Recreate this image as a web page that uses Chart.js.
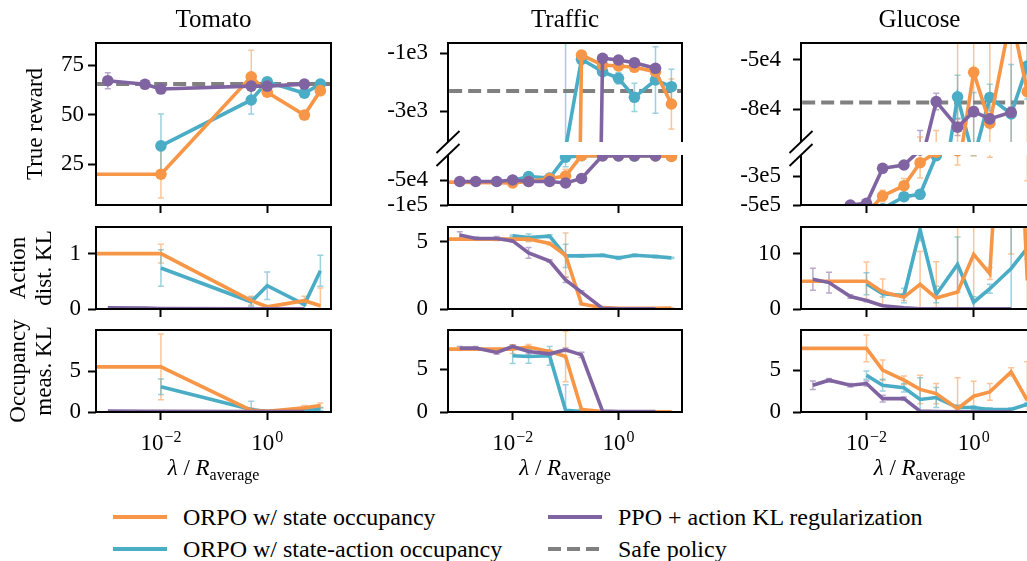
<!DOCTYPE html>
<html><head><meta charset="utf-8">
<script src="https://cdn.jsdelivr.net/npm/chart.js"></script>
<style>
html,body{margin:0;padding:0;width:1027px;height:561px;overflow:hidden;background:#fff;}
body{position:relative;font-family:"Liberation Serif","Times New Roman",serif;color:#000;}
canvas{position:absolute;}
.t{position:absolute;white-space:nowrap;font-family:"Liberation Serif","Times New Roman",serif;}
</style></head><body>
<script>
const n = null;
// ---------- lambda grid (first entry lies left of the visible range) ----------
const LAMBDA = [1e-4, 1e-3, 2e-3, 5e-3, 1e-2, 2e-2, 5e-2, 0.1, 0.2, 0.5, 1, 2, 5, 10];
const X_TICKS = [1e-2, 1];
const X_TICK_BASE = ['10', '10'];
const X_TICK_EXP = ['\u22122', '0'];
const ENVS = ['Tomato', 'Traffic', 'Glucose'];

// ---------- Tomato ----------
const TOM_REW_STATE     = [20,n,n,n,20,n,n,n,n,69.1,61.3,n,49.8,62.1];
const TOM_REW_STATE_ERR = [0,0,0,0,12,0,0,0,0,13.4,1.5,0,1.8,2.5];
const TOM_REW_SA        = [n,n,n,n,34.3,n,n,n,n,57.4,66.6,n,60.8,65.4];
const TOM_REW_SA_ERR    = [0,0,0,0,16,0,0,0,0,7.1,1.2,0,1.8,2];
const TOM_REW_PPO       = [n,67.1,n,65.3,62.9,n,n,n,n,64.4,64.4,n,65.4,n];
const TOM_REW_PPO_ERR   = [0,4,0,0.6,0.6,0,0,0,0,0.6,0.6,0,0.6,0];
const TOM_SAFE = 65.4;
const TOM_ACT_STATE     = [1.0,n,n,n,1.0,n,n,n,n,0.15,0.04,n,0.15,0.06];
const TOM_ACT_STATE_ERR = [0,0,0,0,0.17,0,0,0,0,0.08,0.02,0,0.08,0.32];
const TOM_ACT_SA        = [n,n,n,n,0.74,n,n,n,n,0.13,0.42,n,0.08,0.69];
const TOM_ACT_SA_ERR    = [0,0,0,0,0.33,0,0,0,0,0.08,0.25,0,0.08,0.28];
const TOM_ACT_PPO       = [n,0.02,n,0.015,0.01,n,n,n,n,0.005,0.005,n,0.005,n];
const TOM_OCC_STATE     = [5.5,n,n,n,5.5,n,n,n,n,0.2,0.1,n,0.5,0.8];
const TOM_OCC_STATE_ERR = [0,0,0,0,4,0,0,0,0,0.3,0.1,0,0.3,0.3];
const TOM_OCC_SA        = [n,n,n,n,3.07,n,n,n,n,0.3,0.05,n,0.15,0.35];
const TOM_OCC_SA_ERR    = [0,0,0,0,0.95,0,0,0,0,1.0,0.05,0,0.2,0.2];
const TOM_OCC_PPO       = [n,0.12,n,0.1,0.08,n,n,n,n,0.05,0.05,n,0.05,n];

// ---------- Traffic ----------
const TRA_REW_STATE     = [-53000,n,n,n,-56000,-53000,-47000,-42000,-1060,-1405,-1440,-1485,-1636,-2757];
const TRA_REW_STATE_ERR = [0,0,0,0,1500,0,1500,13300,80,80,80,80,100,866];
const TRA_REW_SA        = [n,n,n,n,-51000,-43000,-46000,-4300,-1208,-1636,-1867,-2525,-1925,-2157];
const TRA_REW_SA_ERR    = [0,0,0,0,0,0,0,19000,80,100,200,490,1150,600];
const TRA_REW_PPO       = [n,-53000,-53000,-53000,-50000,-53000,-53000,-56000,-47000,-1173,-1232,-1326,-1520,n];
const TRA_REW_PPO_ERR   = [0,0,0,0,0,0,0,1500,0,60,60,60,60,0];
const TRA_SAFE = -2307;
const TRA_ACT_STATE     = [5.2,n,n,n,5.2,5.2,4.87,4.0,0.37,0.1,0.05,0.05,0.05,0.08];
const TRA_ACT_STATE_ERR = [0,0,0,0,0.1,0.2,0.1,1.65,0.05,0.02,0.02,0.02,0.02,0.02];
const TRA_ACT_SA        = [n,n,n,n,5.45,5.32,5.42,3.95,3.95,4.0,3.8,4.0,3.9,3.8];
const TRA_ACT_SA_ERR    = [0,0,0,0,0.05,0.25,0.1,0.87,0.1,0.1,0.12,0.1,0.1,0.05];
const TRA_ACT_PPO       = [n,5.5,5.25,5.25,5.07,4.17,3.57,2.17,1.25,0.05,0.02,0.02,0.02,n];
const TRA_ACT_PPO_ERR   = [0,0.25,0.1,0.15,0.1,0.4,0.1,0.2,0.1,0.02,0.01,0.01,0.01,0];
const TRA_OCC_STATE     = [7.36,n,n,n,7.36,7.6,7.09,6.5,0.3,0.05,0.03,0.02,0.02,0.02];
const TRA_OCC_STATE_ERR = [0,0,0,0,0.5,0.3,0.2,2.95,0.1,0.02,0.01,0.01,0.01,0.01];
const TRA_OCC_SA        = [n,n,n,n,6.58,6.5,6.58,0.2,0.05,0.02,0.02,0.02,0.02,0.02];
const TRA_OCC_SA_ERR    = [0,0,0,0,0.9,0.8,1.1,3.0,0.05,0.01,0.01,0.01,0.01,0.01];
const TRA_OCC_PPO       = [n,7.48,7.48,6.97,7.67,7.09,6.81,7.28,6.69,0.1,0.05,0.05,0.05,n];
const TRA_OCC_PPO_ERR   = [0,0.2,0.2,0.2,0.2,0.3,0.2,0.2,0.3,0.05,0.02,0.02,0.02,0];

// ---------- Glucose ----------
const GLU_REW_STATE     = [-560000,n,n,n,-560000,-437000,-365000,-204000,-130000,-120000,-57800,-88600,-23000,-69500];
const GLU_REW_STATE_ERR = [0,0,0,0,50000,40000,50000,107000,37000,100000,100000,77000,100000,260000];
const GLU_REW_SA        = [n,n,n,n,-550000,-526000,-442000,-425000,-155000,-72600,-110000,-73000,-83000,-54000];
const GLU_REW_SA_ERR    = [0,0,0,0,30000,20000,20000,30000,30000,13000,40000,8000,30000,20000];
const GLU_REW_PPO       = [n,-600000,-550000,-500000,-488000,-243000,-220000,-115000,-75500,-91000,-81600,-86000,-82000,n];
const GLU_REW_PPO_ERR   = [0,0,0,20000,10000,15000,15000,22000,5000,5000,3000,3000,3000,0];
const GLU_SAFE = -76000;
const GLU_ACT_STATE     = [5.03,n,n,n,5.03,3.07,2.15,4.47,2.0,3.07,9.94,6.44,70,5.2];
const GLU_ACT_STATE_ERR = [0,0,0,0,3.5,2.4,0.6,6,6.6,12,20,1.1,60,12];
const GLU_ACT_SA        = [n,n,n,n,4.6,2.76,2.45,14.4,2.63,8.1,1.23,3.68,7.37,11.05];
const GLU_ACT_SA_ERR    = [0,0,0,0,2,0.6,1.3,2,1.5,5,1,0.8,12,2];
const GLU_ACT_PPO       = [n,5.4,4.8,2.27,1.53,0.6,0.2,0.05,0.03,0.02,0.02,0.02,0.02,n];
const GLU_ACT_PPO_ERR   = [0,2,1.9,0.3,0.2,0.1,0.05,0.02,0.01,0.01,0.01,0.01,0.01,0];
const GLU_OCC_STATE     = [7.6,n,n,n,7.6,5.0,3.8,2.7,2.2,0.4,1.88,2.4,4.8,1.4];
const GLU_OCC_STATE_ERR = [0,0,0,0,1.6,1.2,0.5,1.7,1.2,3.7,1.8,1.0,0.5,4.6];
const GLU_OCC_SA        = [n,n,n,n,4.4,3.2,2.9,1.5,1.73,0.53,0.53,0.3,0.3,0.92];
const GLU_OCC_SA_ERR    = [0,0,0,0,0.5,0.7,0.5,2.6,1.2,0.3,0.2,0.2,0.2,0.2];
const GLU_OCC_PPO       = [n,3.2,3.8,3.2,3.4,1.6,1.6,0.1,0.05,0.03,0.03,0.03,0.03,n];
const GLU_OCC_PPO_ERR   = [0,0.5,0.2,0.2,0.3,0.4,0.2,0.05,0.02,0.01,0.01,0.01,0.01,0];

// ---------- y tick values / labels ----------
const TOM_REW_YTICKS = [25, 50, 75],           TOM_REW_YLABELS = ['25', '50', '75'];
const TRA_REW_UP_YTICKS = [-1000, -3000],      TRA_REW_UP_YLABELS = ['-1e3', '-3e3'];
const TRA_REW_LO_YTICKS = [-50000, -100000],   TRA_REW_LO_YLABELS = ['-5e4', '-1e5'];
const GLU_REW_UP_YTICKS = [-50000, -80000],    GLU_REW_UP_YLABELS = ['-5e4', '-8e4'];
const GLU_REW_LO_YTICKS = [-300000, -500000],  GLU_REW_LO_YLABELS = ['-3e5', '-5e5'];
const TOM_ACT_YTICKS = [0, 1],  TRA_ACT_YTICKS = [0, 5],  GLU_ACT_YTICKS = [0, 10];
const OCC_YTICKS = [0, 5];

const SERIES_NAMES = ['ORPO w/ state occupancy', 'ORPO w/ state-action occupancy', 'PPO + action KL regularization', 'Safe policy'];

// ---------- styles ----------
const ORANGE = '#f79646', CYAN = '#4bacc6', PURPLE = '#8064a2', GRAY = '#808080';
const ORANGE_E = 'rgba(247,150,70,0.55)', CYAN_E = 'rgba(75,172,198,0.55)', PURPLE_E = 'rgba(128,100,162,0.55)';
const FONT = '"Liberation Serif","Times New Roman",serif';
const X_MIN = Math.pow(10, -3.2), X_MAX = Math.pow(10, 1.2);

function lineDs(vals, errs, color, errColor, markers) {
  const pts = [], e = [];
  LAMBDA.forEach((l, i) => { if (vals[i] !== null) { pts.push({x: l, y: vals[i]}); e.push(errs ? errs[i] : 0); } });
  return {data: pts, errors: e, errColor, borderColor: color, backgroundColor: color,
    borderWidth: 3.6, pointRadius: markers ? 5.8 : 0, pointHoverRadius: 0, pointBorderWidth: 0,
    pointBackgroundColor: color, tension: 0, fill: false};
}
function safeDs(v) {
  return {data: [{x: X_MIN, y: v}, {x: X_MAX, y: v}], errors: [0, 0], borderColor: GRAY, borderWidth: 4,
    borderDash: [13, 6], pointRadius: 0, pointHoverRadius: 0, fill: false};
}
function group(st, stE, sa, saE, ppo, ppoE, markers, safe) {
  const ds = [lineDs(ppo, ppoE, PURPLE, PURPLE_E, markers), lineDs(st, stE, ORANGE, ORANGE_E, markers), lineDs(sa, saE, CYAN, CYAN_E, markers)];
  if (safe !== undefined && safe !== null) ds.push(safeDs(safe));
  return ds;
}

const errPlugin = {
  id: 'errbars',
  beforeDatasetsDraw(chart) {
    const {ctx, chartArea: a, scales} = chart;
    const x = scales.x, y = scales.y;
    ctx.save();
    ctx.beginPath(); ctx.rect(a.left, a.top, a.right - a.left, a.bottom - a.top); ctx.clip();
    chart.data.datasets.forEach(ds => {
      if (!ds.errColor) return;
      ctx.strokeStyle = ds.errColor; ctx.lineWidth = 1.5;
      ds.data.forEach((p, i) => {
        const e = ds.errors[i]; if (!e) return;
        const px = x.getPixelForValue(p.x);
        const y1 = Math.max(-5000, Math.min(5000, y.getPixelForValue(p.y - e)));
        const y2 = Math.max(-5000, Math.min(5000, y.getPixelForValue(p.y + e)));
        ctx.beginPath();
        ctx.moveTo(px, y1); ctx.lineTo(px, y2);
        ctx.moveTo(px - 3, y1); ctx.lineTo(px + 3, y1);
        ctx.moveTo(px - 3, y2); ctx.lineTo(px + 3, y2);
        ctx.stroke();
      });
    });
    ctx.restore();
  }
};
const framePlugin = {
  id: 'frame',
  afterDatasetsDraw(chart, args, o) {
    const {ctx, chartArea: a} = chart;
    const s = o.sides || 'tblr';
    ctx.save();
    ctx.strokeStyle = '#000'; ctx.lineWidth = 2;
    ctx.beginPath();
    if (s.includes('t')) { ctx.moveTo(a.left - 1, a.top); ctx.lineTo(a.right + 1, a.top); }
    if (s.includes('b')) { ctx.moveTo(a.left - 1, a.bottom); ctx.lineTo(a.right + 1, a.bottom); }
    if (s.includes('l')) { ctx.moveTo(a.left, a.top); ctx.lineTo(a.left, a.bottom); }
    if (s.includes('r')) { ctx.moveTo(a.right, a.top); ctx.lineTo(a.right, a.bottom); }
    ctx.stroke();
    if (o.brk) {
      const yb = o.brk === 'bottom' ? a.bottom : a.top;
      ctx.lineWidth = 1.8;
      ctx.beginPath(); ctx.moveTo(a.left - 11.5, yb + 11); ctx.lineTo(a.left + 11.5, yb - 11); ctx.stroke();
    }
    ctx.restore();
  },
  afterDraw(chart, args, o) {
    if (!o.xLabels) return;
    const {ctx, chartArea: a, scales} = chart;
    ctx.save();
    ctx.fillStyle = '#000'; ctx.textBaseline = 'alphabetic'; ctx.textAlign = 'left';
    X_TICKS.forEach((v, i) => {
      const px = scales.x.getPixelForValue(v);
      ctx.font = '23px ' + FONT;
      const wb = ctx.measureText(X_TICK_BASE[i]).width;
      ctx.font = '16px ' + FONT;
      const we = ctx.measureText(X_TICK_EXP[i]).width;
      const x0 = px - (wb + we + 1) / 2;
      ctx.font = '23px ' + FONT;
      ctx.fillText(X_TICK_BASE[i], x0, a.bottom + 38);
      ctx.font = '16px ' + FONT;
      ctx.fillText(X_TICK_EXP[i], x0 + wb + 1, a.bottom + 30);
    });
    ctx.restore();
  }
};

function panel(g) {
  const padL = 100, padR = 14, padT = 14, padB = g.xLabels ? 60 : 14;
  const W = g.R - g.L + padL + padR, H = g.B - g.T + padT + padB;
  const cv = document.createElement('canvas');
  cv.width = W; cv.height = H;
  cv.style.left = (g.L - padL) + 'px'; cv.style.top = (g.T - padT) + 'px';
  cv.style.width = W + 'px'; cv.style.height = H + 'px';
  document.body.appendChild(cv);
  const tickGrid = {display: true, drawOnChartArea: false, drawTicks: true, tickLength: 8, tickWidth: 2, tickColor: '#000'};
  return new Chart(cv, {
    type: 'line',
    data: {datasets: g.datasets},
    options: {
      responsive: false, animation: false, devicePixelRatio: 1, events: [],
      layout: {padding: {left: 0, top: padT, right: padR, bottom: 0}},
      plugins: {legend: {display: false}, tooltip: {enabled: false}, frame: {sides: g.sides, brk: g.brk, xLabels: !!g.xLabels}},
      scales: {
        x: {
          type: 'logarithmic', min: X_MIN, max: X_MAX,
          afterBuildTicks: s => { s.ticks = X_TICKS.map(v => ({value: v})); },
          afterFit: s => { s.height = padB; s.paddingLeft = 0; s.paddingRight = 0; },
          ticks: {display: false, autoSkip: false, maxRotation: 0},
          grid: Object.assign({}, tickGrid, {display: g.xTicks !== false}),
          border: {display: false}
        },
        y: {
          type: 'linear', min: g.yMin, max: g.yMax,
          afterBuildTicks: s => { s.ticks = g.yTicks.map(v => ({value: v})); },
          afterFit: s => { s.width = padL; s.paddingTop = 0; s.paddingBottom = 0; },
          ticks: {autoSkip: false, padding: g.yPad, color: '#000', font: {family: FONT, size: 23},
            callback: (v, i) => g.yLabels[i]},
          grid: tickGrid,
          border: {display: false}
        }
      }
    },
    plugins: [errPlugin, framePlugin]
  });
}

const COL = [{L: 96, R: 331}, {L: 448, R: 682}, {L: 801, R: 1038}];
const str = a => a.map(String);

// Row 1: true reward (broken axes for Traffic and Glucose; safe policy only in the upper part)
panel(Object.assign({}, COL[0], {T: 43, B: 205, yMin: 4.5, yMax: 86.1, yTicks: TOM_REW_YTICKS, yLabels: TOM_REW_YLABELS, yPad: 4,
  datasets: group(TOM_REW_STATE, TOM_REW_STATE_ERR, TOM_REW_SA, TOM_REW_SA_ERR, TOM_REW_PPO, TOM_REW_PPO_ERR, true, TOM_SAFE)}));
panel(Object.assign({}, COL[1], {T: 43, B: 142, yMin: -4074, yMax: -643, yTicks: TRA_REW_UP_YTICKS, yLabels: TRA_REW_UP_YLABELS, yPad: 12,
  sides: 'tlr', brk: 'bottom', xTicks: false,
  datasets: group(TRA_REW_STATE, TRA_REW_STATE_ERR, TRA_REW_SA, TRA_REW_SA_ERR, TRA_REW_PPO, TRA_REW_PPO_ERR, true, TRA_SAFE)}));
panel(Object.assign({}, COL[1], {T: 155, B: 205, yMin: -100000, yMax: 0, yTicks: TRA_REW_LO_YTICKS, yLabels: TRA_REW_LO_YLABELS, yPad: 12,
  sides: 'blr', brk: 'top',
  datasets: group(TRA_REW_STATE, TRA_REW_STATE_ERR, TRA_REW_SA, TRA_REW_SA_ERR, TRA_REW_PPO, TRA_REW_PPO_ERR, true, null)}));
panel(Object.assign({}, COL[2], {T: 43, B: 142, yMin: -100000, yMax: -40000, yTicks: GLU_REW_UP_YTICKS, yLabels: GLU_REW_UP_YLABELS, yPad: 12,
  sides: 'tlr', brk: 'bottom', xTicks: false,
  datasets: group(GLU_REW_STATE, GLU_REW_STATE_ERR, GLU_REW_SA, GLU_REW_SA_ERR, GLU_REW_PPO, GLU_REW_PPO_ERR, true, GLU_SAFE)}));
panel(Object.assign({}, COL[2], {T: 155, B: 205, yMin: -500000, yMax: -150000, yTicks: GLU_REW_LO_YTICKS, yLabels: GLU_REW_LO_YLABELS, yPad: 12,
  sides: 'blr', brk: 'top',
  datasets: group(GLU_REW_STATE, GLU_REW_STATE_ERR, GLU_REW_SA, GLU_REW_SA_ERR, GLU_REW_PPO, GLU_REW_PPO_ERR, true, null)}));

// Row 2: action distribution KL
panel(Object.assign({}, COL[0], {T: 227, B: 309, yMin: 0, yMax: 1.48, yTicks: TOM_ACT_YTICKS, yLabels: str(TOM_ACT_YTICKS), yPad: 7,
  datasets: group(TOM_ACT_STATE, TOM_ACT_STATE_ERR, TOM_ACT_SA, TOM_ACT_SA_ERR, TOM_ACT_PPO, null, false)}));
panel(Object.assign({}, COL[1], {T: 227, B: 309, yMin: 0, yMax: 6.1, yTicks: TRA_ACT_YTICKS, yLabels: str(TRA_ACT_YTICKS), yPad: 12,
  datasets: group(TRA_ACT_STATE, TRA_ACT_STATE_ERR, TRA_ACT_SA, TRA_ACT_SA_ERR, TRA_ACT_PPO, TRA_ACT_PPO_ERR, false)}));
panel(Object.assign({}, COL[2], {T: 227, B: 309, yMin: 0, yMax: 14.9, yTicks: GLU_ACT_YTICKS, yLabels: str(GLU_ACT_YTICKS), yPad: 12,
  datasets: group(GLU_ACT_STATE, GLU_ACT_STATE_ERR, GLU_ACT_SA, GLU_ACT_SA_ERR, GLU_ACT_PPO, GLU_ACT_PPO_ERR, false)}));

// Row 3: occupancy measure KL
panel(Object.assign({}, COL[0], {T: 330, B: 412, yMin: 0, yMax: 10, yTicks: OCC_YTICKS, yLabels: str(OCC_YTICKS), yPad: 7, xLabels: true,
  datasets: group(TOM_OCC_STATE, TOM_OCC_STATE_ERR, TOM_OCC_SA, TOM_OCC_SA_ERR, TOM_OCC_PPO, null, false)}));
panel(Object.assign({}, COL[1], {T: 330, B: 412, yMin: 0, yMax: 9.6, yTicks: OCC_YTICKS, yLabels: str(OCC_YTICKS), yPad: 12, xLabels: true,
  datasets: group(TRA_OCC_STATE, TRA_OCC_STATE_ERR, TRA_OCC_SA, TRA_OCC_SA_ERR, TRA_OCC_PPO, TRA_OCC_PPO_ERR, false)}));
panel(Object.assign({}, COL[2], {T: 330, B: 412, yMin: 0, yMax: 9.8, yTicks: OCC_YTICKS, yLabels: str(OCC_YTICKS), yPad: 12, xLabels: true,
  datasets: group(GLU_OCC_STATE, GLU_OCC_STATE_ERR, GLU_OCC_SA, GLU_OCC_SA_ERR, GLU_OCC_PPO, GLU_OCC_PPO_ERR, false)}));

// ---------- text: titles, axis labels ----------
function text(html, x, y, size, extra) {
  const d = document.createElement('div');
  d.className = 't';
  d.innerHTML = html;
  d.style.cssText += `left:${x}px;top:${y}px;font-size:${size}px;line-height:${size + 3}px;transform:translate(-50%,-50%) ${extra || ''};text-align:center;`;
  document.body.appendChild(d);
  return d;
}
ENVS.forEach((e, i) => {
  const cx = (COL[i].L + COL[i].R) / 2;
  text(e, cx, 19, 25);
  text('<i>\u03BB</i> / <i>R</i><span style="font-size:16px;position:relative;top:5px">average</span>', cx, 469, 23);
});
text('True reward', 35, 124, 23, 'rotate(-90deg)');
text('Action<br>dist. KL', 31, 268, 23, 'rotate(-90deg)');
text('Occupancy<br>meas. KL', 31, 371, 23, 'rotate(-90deg)');

// ---------- legend ----------
const LEG = [
  {name: SERIES_NAMES[0], color: ORANGE, x: 113, y: 517},
  {name: SERIES_NAMES[1], color: CYAN, x: 113, y: 549},
  {name: SERIES_NAMES[2], color: PURPLE, x: 548, y: 517},
  {name: SERIES_NAMES[3], color: GRAY, x: 548, y: 549, dash: true}
];
LEG.forEach(l => {
  const sw = document.createElementNS('http://www.w3.org/2000/svg', 'svg');
  sw.setAttribute('width', 54); sw.setAttribute('height', 8);
  sw.style.cssText = `position:absolute;left:${l.x}px;top:${l.y - 4}px;`;
  sw.innerHTML = `<line x1="0" y1="4" x2="54" y2="4" stroke="${l.color}" stroke-width="4" ${l.dash ? 'stroke-dasharray="13 6"' : ''}/>`;
  document.body.appendChild(sw);
  const d = document.createElement('div');
  d.className = 't';
  d.textContent = l.name;
  d.style.cssText += `left:${l.x + 70}px;top:${l.y - 13}px;font-size:24px;line-height:26px;`;
  document.body.appendChild(d);
});
</script>
</body></html>
